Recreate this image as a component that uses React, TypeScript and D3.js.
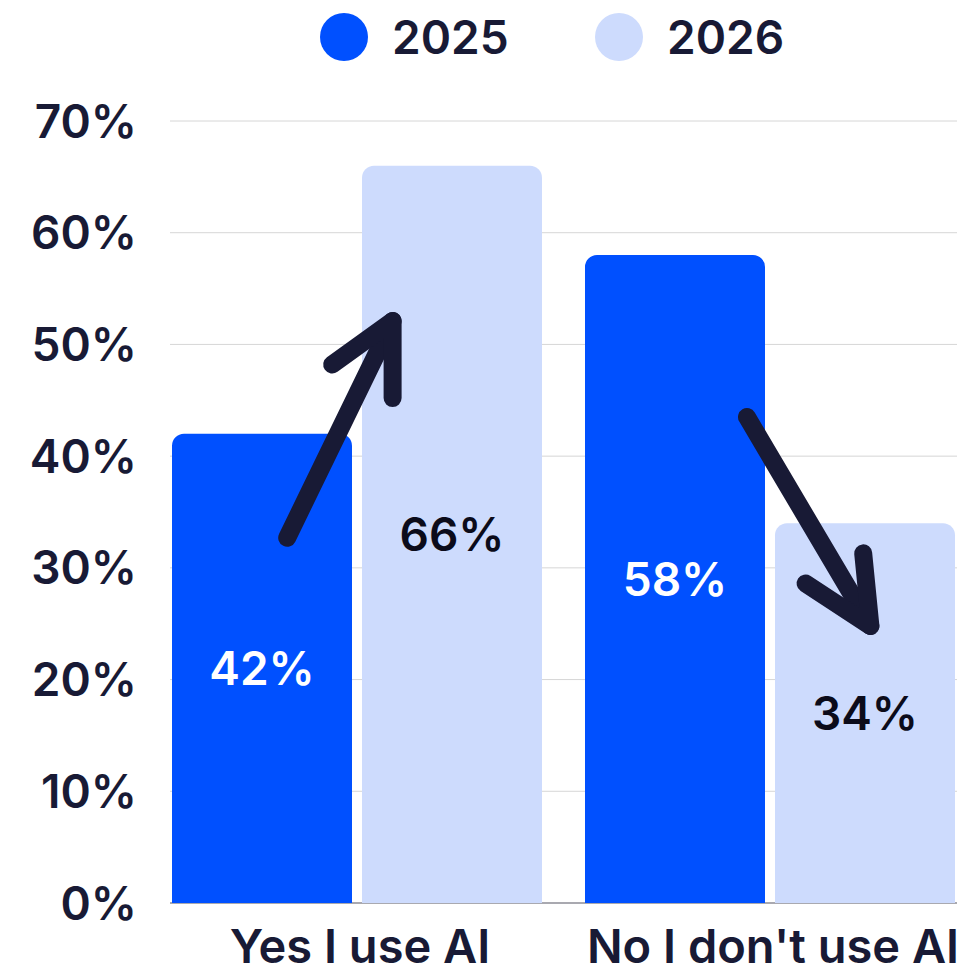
import React from "react";
import * as d3 from "d3";

const categories = ["Yes I use AI", "No I don't use AI"];
const seriesNames = ["2025", "2026"];
const values2025 = [42, 58];
const values2026 = [66, 34];
const yTicks = [0, 10, 20, 30, 40, 50, 60, 70];
const colors = ["#0050FF", "#CDDBFD"];
const labelColors = ["#FFFFFF", "#0B0B1A"];

// arrow annotations: points as [categoryIndex, seriesIndex, fractionAcrossBar, value]
const arrows = [
  {
    tail: [0, 0, 0.64, 32.7],
    tip: [0, 1, 0.17, 52.1],
    wingA: [0, 0, 0.89, 48.2],
    wingB: [0, 1, 0.17, 45.2],
  },
  {
    tail: [1, 0, 0.9, 43.5],
    tip: [1, 1, 0.53, 24.8],
    wingA: [1, 1, 0.17, 28.6],
    wingB: [1, 1, 0.49, 31.3],
  },
];

const W = 973;
const H = 968;
const FONT = "Inter, 'Noto Sans', sans-serif";
const DARK = "#181A35";

export default function App() {
  const x0 = d3
    .scaleBand<string>()
    .domain(categories)
    .range([172, 955])
    .paddingInner(0.1041)
    .paddingOuter(0);
  const x1 = d3
    .scaleBand<string>()
    .domain(seriesNames)
    .range([0, x0.bandwidth()])
    .paddingInner(10 / 190);
  const y = d3.scaleLinear().domain([0, 70]).range([903, 121]);

  const data = categories.map((c, i) => ({ c, vals: [values2025[i], values2026[i]] }));

  const r = 12;
  const barPath = (x: number, w: number, yTop: number, yBot: number) => {
    const p = d3.path();
    p.moveTo(x, yBot);
    p.lineTo(x, yTop + r);
    p.arcTo(x, yTop, x + r, yTop, r);
    p.lineTo(x + w - r, yTop);
    p.arcTo(x + w, yTop, x + w, yTop + r, r);
    p.lineTo(x + w, yBot);
    p.closePath();
    return p.toString();
  };

  const pt = (a: number[]) => {
    const [ci, si, f, v] = a;
    const bx = (x0(categories[ci]) as number) + (x1(seriesNames[si]) as number);
    return [bx + f * x1.bandwidth(), y(v)];
  };

  return (
    <svg
      width={W}
      height={H}
      style={{ position: "absolute", left: 0, top: 0, background: "#fff" }}
      fontFamily={FONT}
    >
      {/* legend */}
      {seriesNames.map((s, i) => (
        <g key={s} transform={`translate(${344 + i * 275},37)`}>
          <circle r={24} fill={colors[i]} />
          <text x={48} dy="0.36em" fontSize={46} fontWeight={600} fill={DARK}>
            {s}
          </text>
        </g>
      ))}

      {/* grid */}
      {yTicks.map((t) => (
        <g key={t}>
          <line
            x1={170}
            x2={957}
            y1={y(t)}
            y2={y(t)}
            stroke={t === 0 ? "#8C8C96" : "#D6D6D6"}
            strokeWidth={t === 0 ? 1.5 : 1}
          />
          <text
            x={137}
            y={y(t)}
            dy="0.36em"
            textAnchor="end"
            fontSize={46}
            fontWeight={600}
            fill={DARK}
          >
            {t}%
          </text>
        </g>
      ))}

      {/* bars */}
      {data.map((d) => (
        <g key={d.c} transform={`translate(${x0(d.c)},0)`}>
          {d.vals.map((v, si) => {
            const bx = x1(seriesNames[si]) as number;
            const bw = x1.bandwidth();
            return (
              <g key={si}>
                <path d={barPath(bx, bw, y(v), y(0))} fill={colors[si]} />
                <text
                  x={bx + bw / 2}
                  y={(y(v) + y(0)) / 2}
                  dy="0.36em"
                  textAnchor="middle"
                  fontSize={46}
                  fontWeight={600}
                  fill={labelColors[si]}
                >
                  {v}%
                </text>
              </g>
            );
          })}
          <text
            x={x0.bandwidth() / 2 + 3}
            y={946}
            dy="0.36em"
            textAnchor="middle"
            fontSize={47}
            fontWeight={600}
            fill={DARK}
          >
            {d.c}
          </text>
        </g>
      ))}

      {/* arrows */}
      {arrows.map((a, i) => {
        const t = pt(a.tail);
        const h = pt(a.tip);
        const wa = pt(a.wingA);
        const wb = pt(a.wingB);
        return (
          <g
            key={i}
            fill="none"
            stroke={DARK}
            strokeWidth={18}
            strokeLinecap="round"
            strokeLinejoin="round"
          >
            <path d={`M${t[0]},${t[1]}L${h[0]},${h[1]}`} />
            <path d={`M${wa[0]},${wa[1]}L${h[0]},${h[1]}L${wb[0]},${wb[1]}`} />
          </g>
        );
      })}
    </svg>
  );
}
